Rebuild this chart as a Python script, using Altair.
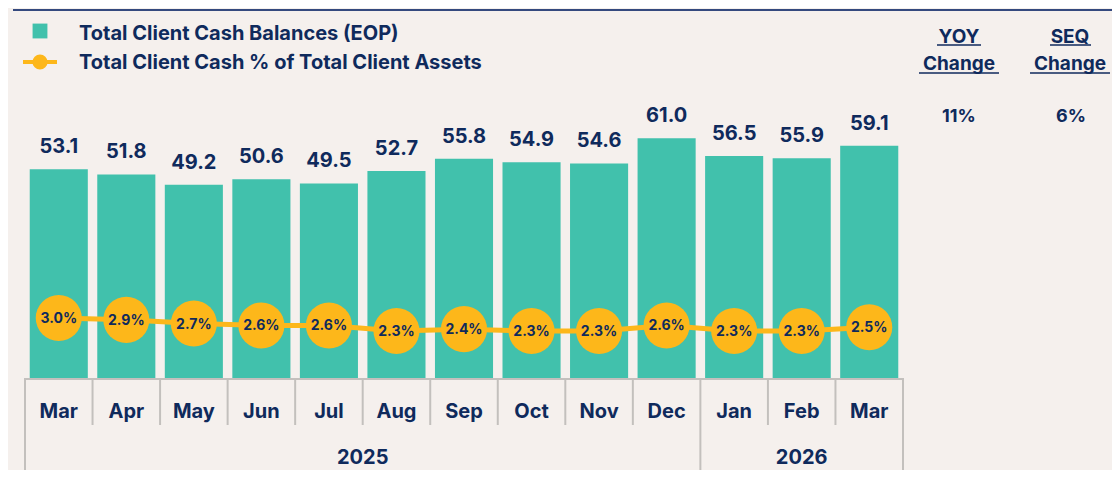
import altair as alt
import pandas as pd

# ---- data ----
months = ["Mar", "Apr", "May", "Jun", "Jul", "Aug", "Sep", "Oct", "Nov", "Dec", "Jan", "Feb", "Mar"]
years = ["2025"] * 10 + ["2026"] * 3
balances = [53.1, 51.8, 49.2, 50.6, 49.5, 52.7, 55.8, 54.9, 54.6, 61.0, 56.5, 55.9, 59.1]
cash_pct = [3.0, 2.9, 2.7, 2.6, 2.6, 2.3, 2.4, 2.3, 2.3, 2.6, 2.3, 2.3, 2.5]
legend_labels = ["Total Client Cash Balances (EOP)", "Total Client Cash % of Total Client Assets"]
yoy_change = "11%"
seq_change = "6%"

keys = [f"{m} {y}" for m, y in zip(months, years)]
df = pd.DataFrame({
    "key": keys,
    "month": months,
    "year": years,
    "bal": balances,
    "pct": cash_pct,
    "pct_label": [f"{v:.1f}%" for v in cash_pct],
})
one = pd.DataFrame({"k": [0]})

TEAL = "#41c1ac"
GOLD = "#fdb71a"
NAVY = "#0f2a5c"
LINE_NAVY = "#34497e"
GRAY = "#c3c0bd"
BG = "#f5f0ed"
FONT = "Inter"

W, H = 878, 358
xscale = alt.Scale(domain=keys, paddingInner=0, paddingOuter=0)
ybal = alt.Scale(domain=[0, 91.1])
ypct = alt.Scale(domain=[-0.226, 19.02])

X = alt.X("key:N", scale=xscale, axis=None, sort=None)

base = alt.Chart(df)

bars = base.mark_bar(width=alt.RelativeBandSize(0.86), color=TEAL).encode(
    x=X, y=alt.Y("bal:Q", scale=ybal, axis=None))
bar_labels = base.mark_text(font=FONT, fontWeight="bold", fontSize=20, color=NAVY,
                            baseline="alphabetic", dy=-16).encode(
    x=X, y=alt.Y("bal:Q", scale=ybal, axis=None), text=alt.Text("bal:Q", format=".1f"))

line = base.mark_line(color=GOLD, strokeWidth=5).encode(
    x=X, y=alt.Y("pct:Q", scale=ypct, axis=None))
circles = base.mark_circle(color=GOLD, opacity=1, size=2124).encode(
    x=X, y=alt.Y("pct:Q", scale=ypct, axis=None))
pct_labels = base.mark_text(font=FONT, fontWeight="bold", fontSize=14, color=NAVY,
                            baseline="middle", dy=1).encode(
    x=X, y=alt.Y("pct:Q", scale=ypct, axis=None), text="pct_label:N")

bal_layer = alt.layer(bars, bar_labels)
pct_layer = alt.layer(line, circles, pct_labels)

# ---- category axis drawn as boxes ----
axis_line = alt.Chart(one).mark_rule(color=GRAY, strokeWidth=2).encode(
    x=alt.value(0), x2=alt.value(W), y=alt.value(H + 1))
short_sep = base.transform_filter(
    "datum.key != 'Mar 2025' && datum.key != 'Jan 2026'").mark_rule(color=GRAY, strokeWidth=2).encode(
    x=alt.X("key:N", scale=xscale, axis=None, sort=None, bandPosition=0),
    y=alt.value(H), y2=alt.value(H + 47))
long_sep = base.transform_filter(
    "datum.key == 'Mar 2025' || datum.key == 'Jan 2026'").mark_rule(color=GRAY, strokeWidth=2).encode(
    x=alt.X("key:N", scale=xscale, axis=None, sort=None, bandPosition=0),
    y=alt.value(H), y2=alt.value(H + 92))
end_sep = base.transform_filter("datum.key == 'Mar 2026'").mark_rule(color=GRAY, strokeWidth=2).encode(
    x=alt.X("key:N", scale=xscale, axis=None, sort=None, bandPosition=1),
    y=alt.value(H), y2=alt.value(H + 92))
month_labels = base.mark_text(font=FONT, fontWeight="bold", fontSize=20, color=NAVY,
                              baseline="alphabetic").encode(
    x=X, y=alt.value(H + 40), text="month:N")
year25 = base.transform_filter("datum.key == 'Aug 2025'").mark_text(
    font=FONT, fontWeight="bold", fontSize=20, color=NAVY, baseline="alphabetic").encode(
    x=alt.X("key:N", scale=xscale, axis=None, sort=None, bandPosition=0),
    y=alt.value(H + 86), text="year:N")
year26 = base.transform_filter("datum.key == 'Feb 2026'").mark_text(
    font=FONT, fontWeight="bold", fontSize=20, color=NAVY, baseline="alphabetic").encode(
    x=alt.X("key:N", scale=xscale, axis=None, sort=None, bandPosition=0.5),
    y=alt.value(H + 86), text="year:N")

# ---- legend, header rule and change columns ----
def txt(s, x, y, size=20, align="left"):
    return alt.Chart(one).mark_text(text=s, font=FONT, fontWeight="bold", fontSize=size,
                                    color=NAVY, align=align, baseline="middle").encode(
        x=alt.value(x), y=alt.value(y))

def hrule(x1, x2, y, color=NAVY, w=1.5):
    return alt.Chart(one).mark_rule(color=color, strokeWidth=w).encode(
        x=alt.value(x1), x2=alt.value(x2), y=alt.value(y))

top_rule = hrule(-12, 1087, -10, LINE_NAVY, 2)
leg_sq = alt.Chart(one).mark_square(color=TEAL, size=220, opacity=1).encode(
    x=alt.value(15), y=alt.value(11))
leg_line = hrule(-2, 32, 42, GOLD, 4)
leg_dot = alt.Chart(one).mark_circle(color=GOLD, size=230, opacity=1).encode(
    x=alt.value(15), y=alt.value(42))
leg_t1 = txt(legend_labels[0], 54, 14)
leg_t2 = txt(legend_labels[1], 54, 43)

yoy_h1 = txt("YOY", 934, 17, 19, "center")
yoy_h2 = txt("Change", 934, 44, 19, "center")
seq_h1 = txt("SEQ", 1045, 17, 19, "center")
seq_h2 = txt("Change", 1045, 44, 19, "center")
u1 = hrule(912, 956, 25)
u2 = hrule(894, 974, 53)
u3 = hrule(1025, 1066, 25)
u4 = hrule(1005, 1085, 53)
yoy_v = txt(yoy_change, 934, 97, 18, "center")
seq_v = txt(seq_change, 1046, 97, 18, "center")

chart = alt.layer(
    bal_layer, pct_layer,
    axis_line, short_sep, long_sep, end_sep, month_labels, year25, year26,
    top_rule, leg_sq, leg_line, leg_dot, leg_t1, leg_t2,
    yoy_h1, yoy_h2, seq_h1, seq_h2, u1, u2, u3, u4, yoy_v, seq_v,
).resolve_scale(y="independent").properties(
    width=W, height=H,
    autosize=alt.AutoSizeParams(type="none"),
    padding={"left": 17, "top": 12, "right": 209, "bottom": 92},
    background=BG,
).configure_view(stroke=None)

chart.save("out.html", embed_options={"renderer": "svg", "actions": False})
